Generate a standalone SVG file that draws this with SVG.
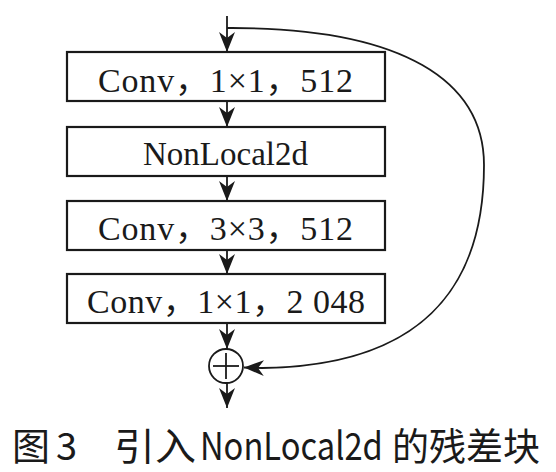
<svg xmlns="http://www.w3.org/2000/svg" width="556" height="472" viewBox="0 0 556 472">
<style>
.box{fill:#fff;stroke:#1a1a1a;stroke-width:2.2}
.lbl{font-family:"Liberation Serif","Noto Sans CJK SC",serif;font-size:34px;fill:#1a1a1a}
.ln{fill:none;stroke:#1a1a1a;stroke-width:1.8}
.cap{font-family:"Noto Sans CJK SC","DejaVu Sans",sans-serif;font-size:38px;fill:#1a1a1a}
</style>
<defs>
<marker id="ah" viewBox="-20 -9 21 18" refX="0" refY="0" markerWidth="21" markerHeight="18" markerUnits="userSpaceOnUse" orient="auto">
<path d="M0,0 L-20,-8 L-14,0 L-20,8 Z" fill="#1a1a1a"/>
</marker>
</defs>
<g id="connectors">
<line class="ln" x1="227" y1="16" x2="227" y2="52" marker-end="url(#ah)"/>
<line class="ln" x1="227" y1="101" x2="227" y2="127" marker-end="url(#ah)"/>
<line class="ln" x1="227" y1="176" x2="227" y2="201" marker-end="url(#ah)"/>
<line class="ln" x1="227" y1="250" x2="227" y2="274" marker-end="url(#ah)"/>
<line class="ln" x1="227" y1="323" x2="227" y2="349" marker-end="url(#ah)"/>
<line class="ln" x1="227" y1="383" x2="227" y2="408" marker-end="url(#ah)"/>
<path class="ln" d="M227,28 C405,27 484,82 484,165 C484,290 420,366 262,368 L244,367.5" marker-end="url(#ah)"/>
</g>
<g id="n1">
<rect class="box" x="67" y="52" width="318" height="49"/>
<text class="lbl" x="98" y="92" textLength="255" lengthAdjust="spacing">Conv，1×1，512</text>
</g>
<g id="n2">
<rect class="box" x="67" y="127" width="318" height="49"/>
<text class="lbl" x="143" y="165" textLength="165" lengthAdjust="spacingAndGlyphs">NonLocal2d</text>
</g>
<g id="n3">
<rect class="box" x="67" y="201" width="318" height="49"/>
<text class="lbl" x="98" y="240" textLength="255" lengthAdjust="spacing">Conv，3×3，512</text>
</g>
<g id="n4">
<rect class="box" x="67" y="274" width="318" height="49"/>
<text class="lbl" x="87" y="313" textLength="278" lengthAdjust="spacing">Conv，1×1，2 048</text>
</g>
<g id="sum">
<circle cx="226" cy="366" r="17" fill="#fff" stroke="#1a1a1a" stroke-width="1.8"/>
<line class="ln" x1="213" y1="366" x2="239" y2="366"/>
<line class="ln" x1="226" y1="353" x2="226" y2="379"/>
</g>
<g id="caption">
<text class="cap" x="12" y="460">图</text>
<text class="cap" x="56" y="460">3</text>
<text class="cap" x="114" y="460" textLength="82" lengthAdjust="spacingAndGlyphs">引入</text>
<text class="cap" transform="translate(200,460) scale(0.86,1)" x="0" y="0">NonLocal2d</text>
<text class="cap" x="392" y="460" textLength="148" lengthAdjust="spacingAndGlyphs">的残差块</text>
</g>
</svg>
